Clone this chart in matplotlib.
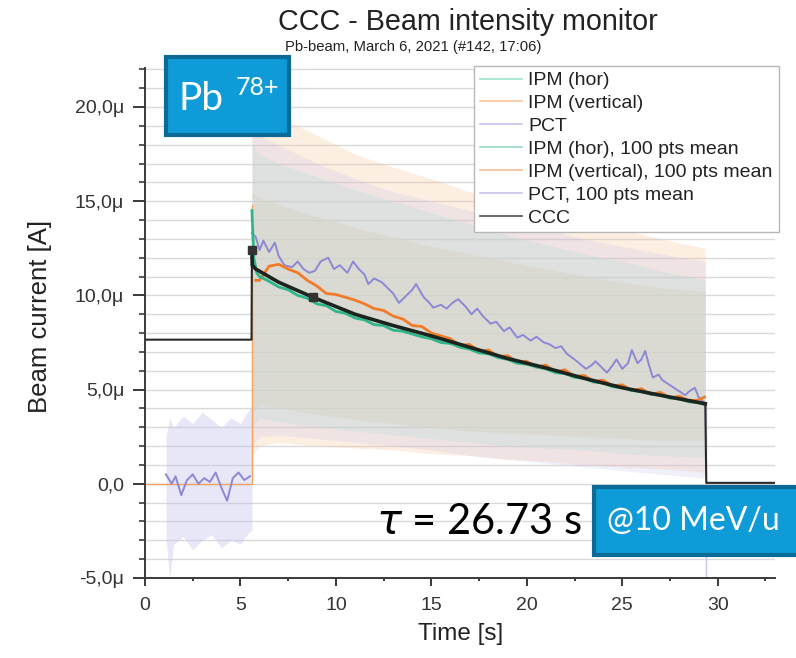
import matplotlib
matplotlib.use("Agg")
import matplotlib.pyplot as plt
from matplotlib.patches import Rectangle
from matplotlib.lines import Line2D
from matplotlib.ticker import MultipleLocator

plt.rcParams['font.family'] = ['Liberation Sans', 'DejaVu Sans']
plt.rcParams['mathtext.fontset'] = 'dejavusans'

# ---------------- data ----------------
# raw-signal envelopes during the beam (min / max of the noisy traces)
raw_x = [5.6, 6, 7, 9, 11, 13, 15, 17, 19, 21, 23, 25, 27, 29.35]
ipmv_raw_hi = [20.5, 20.0, 19.5, 18.5, 17.5, 16.8, 16.2, 15.5, 15.0, 14.5, 14.0, 13.5, 13.0, 12.5]
ipmv_raw_lo = [1.5, 2.0, 2.2, 2.0, 1.9, 1.8, 1.6, 1.5, 1.3, 1.2, 1.0, 0.9, 0.8, 0.6]
ipmh_raw_hi = [18.0, 17.5, 17.0, 16.3, 15.6, 15.0, 14.4, 13.8, 13.2, 12.7, 12.2, 11.8, 11.3, 10.8]
ipmh_raw_lo = [3.0, 3.5, 3.3, 3.0, 2.8, 2.6, 2.4, 2.2, 2.0, 1.9, 1.8, 1.6, 1.5, 1.4]
pct_raw_hi = [19.0, 18.5, 18.0, 17.0, 16.2, 15.5, 15.0, 14.5, 14.0, 13.5, 13.0, 12.6, 12.2, 11.8]
pct_raw_lo = [2.0, 2.5, 2.6, 2.4, 2.2, 2.0, 1.8, 1.5, 1.3, 1.1, 0.9, 0.7, 0.5, 0.3]
# dense core of the overlapping raw traces
core_hi = [15.5, 15.2, 14.8, 14.2, 13.6, 13.1, 12.6, 12.2, 11.8, 11.4, 11.0, 10.7, 10.4, 10.2]
core_lo = [3.8, 4.2, 4.0, 3.7, 3.4, 3.2, 3.0, 2.8, 2.7, 2.6, 2.5, 2.4, 2.3, 2.3]

# PCT raw before the beam
pct_pre_x = [1.1, 1.3, 1.5, 2.0, 2.5, 3.0, 3.5, 4.0, 4.5, 5.0, 5.5, 5.6]
pct_pre_hi = [2.5, 3.5, 3.0, 3.6, 3.2, 3.8, 3.4, 3.0, 3.5, 3.2, 4.0, 4.0]
pct_pre_lo = [-3.0, -5.0, -3.2, -2.8, -3.5, -3.0, -2.7, -3.4, -3.0, -3.2, -2.5, -2.5]

# IPM raw baseline before beam
ipm_base_x = [0, 5.6, 5.6]
ipm_base_y = [0.0, 0.0, 14.8]
# PCT raw after beam end
pct_end_x = [29.4, 29.4]
pct_end_y = [4.3, -5.0]

# PCT, 100 pts mean
pct_mean_x = [1.1, 1.4, 1.6, 1.9, 2.2, 2.5, 2.8, 3.1, 3.4, 3.7, 4.0, 4.3, 4.6, 4.9, 5.2, 5.5,
              5.6, 5.8, 6.0, 6.2, 6.5, 6.8, 7.0, 7.3, 7.7, 8.0, 8.3, 8.6, 8.9, 9.2, 9.6, 9.9,
              10.2, 10.6, 10.9, 11.2, 11.5, 11.7, 12.0, 12.4, 12.7, 13.0, 13.3, 13.6, 14.0,
              14.2, 14.6, 14.9, 15.1, 15.5, 15.8, 16.1, 16.4, 16.8, 17.1, 17.4, 17.7, 18.1,
              18.4, 18.8, 19.1, 19.5, 19.8, 20.2, 20.5, 20.9, 21.2, 21.5, 21.8, 22.1, 22.5,
              22.8, 23.1, 23.4, 23.6, 23.9, 24.2, 24.5, 24.7, 25.0, 25.3, 25.5, 25.8, 26.0,
              26.2, 26.4, 26.6, 26.9, 27.1, 27.4, 27.7, 28.0, 28.3, 28.5, 28.8, 29.0, 29.3]
pct_mean_y = [0.5, 0.0, 0.4, -0.6, 0.2, 0.5, 0.0, 0.3, 0.1, 0.6, -0.2, -0.9, 0.3, 0.6, 0.2, 0.4,
              13.3, 13.1, 12.4, 12.9, 12.3, 12.8, 12.1, 11.6, 11.5, 11.8, 11.4, 11.2, 11.3, 11.8,
              12.0, 11.4, 11.6, 11.2, 11.8, 11.4, 11.1, 10.6, 10.9, 10.7, 10.4, 10.1, 9.6, 9.9,
              10.3, 10.6, 9.9, 9.6, 9.35, 9.5, 9.3, 9.6, 9.8, 9.4, 9.0, 9.3, 8.9, 8.5, 8.6, 8.1,
              8.3, 7.76, 7.9, 7.6, 7.8, 7.5, 7.4, 7.2, 7.3, 6.9, 6.6, 6.35, 6.1, 6.3, 6.5, 6.2,
              5.9, 6.3, 6.6, 6.1, 6.4, 7.1, 6.4, 6.6, 7.05, 6.3, 5.64, 5.8, 5.5, 5.3, 5.1, 4.9,
              4.7, 4.9, 5.1, 4.6, 4.3]

# IPM (vertical), 100 pts mean
ipmv_mean_x = [5.8, 6.0, 6.5, 7.0, 7.5, 8.0, 8.5, 9.0, 9.5, 10.0, 10.5, 11.0, 11.5, 12.0, 12.5,
               13.0, 13.5, 14.0, 14.5, 15.0, 15.5, 16.0, 16.5, 17.0, 17.5, 18.0, 18.5, 19.0,
               19.5, 20.0, 20.5, 21.0, 21.5, 22.0, 22.5, 23.0, 23.5, 24.0, 24.5, 25.0, 25.5,
               26.0, 26.5, 27.0, 27.5, 28.0, 28.5, 29.0, 29.3]
ipmv_mean_y = [10.8, 10.8, 11.55, 11.65, 11.4, 11.2, 10.8, 10.5, 10.1, 10.05, 9.9, 9.75, 9.55,
               9.3, 9.2, 8.9, 8.75, 8.4, 8.35, 8.0, 7.85, 7.7, 7.35, 7.4, 7.05, 7.1, 6.75, 6.8,
               6.45, 6.5, 6.2, 6.3, 5.95, 6.05, 5.7, 5.75, 5.45, 5.5, 5.2, 5.25, 4.95, 5.05,
               4.75, 4.85, 4.55, 4.65, 4.4, 4.45, 4.6]

# IPM (hor), 100 pts mean
ipmh_mean_x = [5.6, 5.7, 5.85, 6.0, 6.5, 7.0, 7.5, 8.0, 8.5, 9.0, 9.5, 10.0, 10.5, 11.0, 11.5,
               12.0, 12.5, 13.0, 13.5, 14.0, 14.5, 15.0, 15.5, 16.0, 16.5, 17.0, 17.5, 18.0,
               18.5, 19.0, 19.5, 20.0, 20.5, 21.0, 21.5, 22.0, 22.5, 23.0, 23.5, 24.0, 24.5,
               25.0, 25.5, 26.0, 26.5, 27.0, 27.5, 28.0, 28.5, 29.0, 29.3]
ipmh_mean_y = [14.5, 12.0, 11.2, 11.0, 10.75, 10.45, 10.3, 10.0, 9.85, 9.55, 9.45, 9.15, 9.05,
               8.8, 8.7, 8.45, 8.4, 8.15, 8.1, 7.95, 7.8, 7.7, 7.5, 7.45, 7.25, 7.15, 6.95, 6.9,
               6.7, 6.6, 6.4, 6.35, 6.2, 6.1, 5.9, 5.85, 5.65, 5.6, 5.4, 5.35, 5.15, 5.1, 4.95,
               4.9, 4.75, 4.7, 4.55, 4.5, 4.35, 4.3, 4.2]

# CCC
ccc_x = [0, 5.58, 5.6, 5.62, 5.8, 7, 8.8, 11, 13, 15, 17, 19, 21, 23, 25, 27, 29.35, 29.4, 33]
ccc_y = [7.65, 7.65, 12.4, 11.6, 11.4, 10.7, 9.9, 9.0, 8.4, 7.85, 7.25, 6.65, 6.15, 5.6, 5.1,
         4.7, 4.25, 0.05, 0.05]
ccc_mark_x = [5.6, 8.8]
ccc_mark_y = [12.4, 9.9]

ytick_vals = [-5, 0, 5, 10, 15, 20]
ytick_labels = ['-5,0\u03bc', '0,0', '5,0\u03bc', '10,0\u03bc', '15,0\u03bc', '20,0\u03bc']
xtick_vals = [0, 5, 10, 15, 20, 25, 30]

legend_labels = ['IPM (hor)', 'IPM (vertical)', 'PCT', 'IPM (hor), 100 pts mean',
                 'IPM (vertical), 100 pts mean', 'PCT, 100 pts mean', 'CCC']

# ---------------- colours ----------------
c_ipmh_raw = '#9fe3cf'
c_ipmv_raw = '#f9c49a'
c_pct_raw = '#c6c3ec'
c_core = '#d6d6c6'
c_ipmh = '#2fb58a'
c_ipmv = '#f07b2a'
c_pct = '#8c88d6'
c_ccc = '#1c2420'

# ---------------- figure ----------------
W, H = 796, 658
fig = plt.figure(figsize=(W / 100, H / 100), dpi=100)
ax = fig.add_axes([145 / W, 1 - 578 / H, 630 / W, 510 / H])
ax.set_xlim(0, 33)
ax.set_ylim(-5, 22.07)

# grid every 1 unit
for gy in range(-4, 23):
    ax.axhline(gy, color='#dadada', lw=1.0, zorder=0)

# raw bands
ax.fill_between(raw_x, ipmv_raw_lo, ipmv_raw_hi, color=c_ipmv_raw, alpha=0.28, lw=0, zorder=1)
ax.fill_between(raw_x, ipmh_raw_lo, ipmh_raw_hi, color=c_ipmh_raw, alpha=0.22, lw=0, zorder=1)
ax.fill_between(raw_x, pct_raw_lo, pct_raw_hi, color=c_pct_raw, alpha=0.25, lw=0, zorder=1)
ax.fill_between(raw_x, core_lo, core_hi, color=c_core, alpha=0.5, lw=0, zorder=1)
ax.fill_between(pct_pre_x, pct_pre_lo, pct_pre_hi, color=c_pct_raw, alpha=0.4, lw=0, zorder=1)
ax.plot(pct_end_x, pct_end_y, color=c_pct_raw, lw=1.0, zorder=2)
ax.plot(ipm_base_x, ipm_base_y, color='#f5a260', lw=1.0, zorder=2)

# means
ax.plot(pct_mean_x[:16], pct_mean_y[:16], color=c_pct, lw=1.4, zorder=3)
ax.plot(pct_mean_x[16:], pct_mean_y[16:], color=c_pct, lw=1.4, zorder=3)
ax.plot(ipmv_mean_x, ipmv_mean_y, color=c_ipmv, lw=2.0, zorder=4)
ax.plot(ipmh_mean_x, ipmh_mean_y, color=c_ipmh, lw=2.0, zorder=5)
ax.plot(ccc_x[:3], ccc_y[:3], color='#2a2a2a', lw=1.5, zorder=6)
ax.plot(ccc_x[2:17], ccc_y[2:17], color=c_ccc, lw=2.6, zorder=6)
ax.plot(ccc_x[16:], ccc_y[16:], color='#2a2a2a', lw=1.5, zorder=6)
ax.plot(ccc_mark_x, ccc_mark_y, ls='none', marker='s', ms=6, color='#333333', zorder=7)

# axes styling
for s in ['top', 'right']:
    ax.spines[s].set_visible(False)
for s in ['left', 'bottom']:
    ax.spines[s].set_color('#3a3a3a')
    ax.spines[s].set_linewidth(1.4)
ax.set_yticks(ytick_vals)
ax.set_yticklabels(ytick_labels)
ax.set_xticks(xtick_vals)
ax.xaxis.set_minor_locator(MultipleLocator(2.5))
ax.yaxis.set_minor_locator(MultipleLocator(1))
ax.tick_params(axis='both', which='major', labelsize=14, colors='#3a3a3a', labelcolor='#333333', width=1.4)
ax.tick_params(axis='x', which='major', direction='out', length=6, pad=8)
ax.tick_params(axis='x', which='minor', direction='out', length=2.5, width=1.4, colors='#3a3a3a')
ax.tick_params(axis='y', which='major', direction='out', length=9, pad=6)
ax.tick_params(axis='y', which='minor', direction='out', length=4, width=1.2, colors='#3a3a3a')

# labels / title
fig.text(40 / W, 1 - 316 / H, 'Beam current [A]', rotation=90, ha='center', va='center',
         fontsize=18.5, color='#222222')
fig.text(461 / W, 1 - 634 / H, 'Time [s]', ha='center', va='center', fontsize=17.5, color='#222222')
fig.text(278 / W, 1 - 22 / H, 'CCC - Beam intensity monitor', ha='left', va='center',
         fontsize=20.7, color='#222222')
fig.text(285 / W, 1 - 47 / H, 'Pb-beam, March 6, 2021 (#142, 17:06)', ha='left', va='center',
         fontsize=10.7, color='#222222')

# legend
handles = [Line2D([], [], color=c_ipmh_raw, lw=1.2),
           Line2D([], [], color=c_ipmv_raw, lw=1.2),
           Line2D([], [], color=c_pct_raw, lw=1.2),
           Line2D([], [], color=c_ipmh, lw=1.2, alpha=0.5),
           Line2D([], [], color=c_ipmv, lw=1.2, alpha=0.5),
           Line2D([], [], color=c_pct, lw=1.2, alpha=0.5),
           Line2D([], [], color=c_ccc, lw=1.2, alpha=0.8)]
leg = ax.legend(handles, legend_labels, loc='upper left', bbox_to_anchor=(0.522, 1.004),
                fontsize=14.0, frameon=True, fancybox=False, framealpha=1.0, edgecolor='#b8b8b8',
                handlelength=2.2, handletextpad=0.3, labelspacing=0.27, borderpad=0.3,
                borderaxespad=0)
leg.get_frame().set_linewidth(1.0)
for t in leg.get_texts():
    t.set_color('#222222')
leg.set_zorder(8)

# annotation boxes
box_face = '#0f9bd7'
box_edge = '#0b6a96'
fig.add_artist(Rectangle((166 / W, 1 - 135 / H), 123 / W, 78 / H, transform=fig.transFigure,
                         facecolor=box_face, edgecolor=box_edge, lw=3, zorder=10))
fig.text(179 / W, 1 - 110 / H, 'Pb', ha='left', va='baseline', fontsize=28, color='white',
         family=['Lato', 'DejaVu Sans'], zorder=11)
fig.text(236 / W, 1 - 95 / H, '78+', ha='left', va='baseline', fontsize=18, color='white',
         family=['Lato', 'DejaVu Sans'], zorder=11)

fig.add_artist(Rectangle((594 / W, 1 - 555 / H), 210 / W, 68 / H, transform=fig.transFigure,
                         facecolor=box_face, edgecolor=box_edge, lw=3, zorder=10))
fig.text(607 / W, 1 - 521 / H, '@10 MeV/u', ha='left', va='center', fontsize=23, color='white',
         family=['Lato', 'DejaVu Sans'], zorder=11)

fig.text(582 / W, 1 - 522 / H, r'$\tau$ = 26.73 s', ha='right', va='center', fontsize=30,
         color='black', family=['Lato', 'DejaVu Sans'], zorder=11)

fig.savefig('out.png', dpi=100)
